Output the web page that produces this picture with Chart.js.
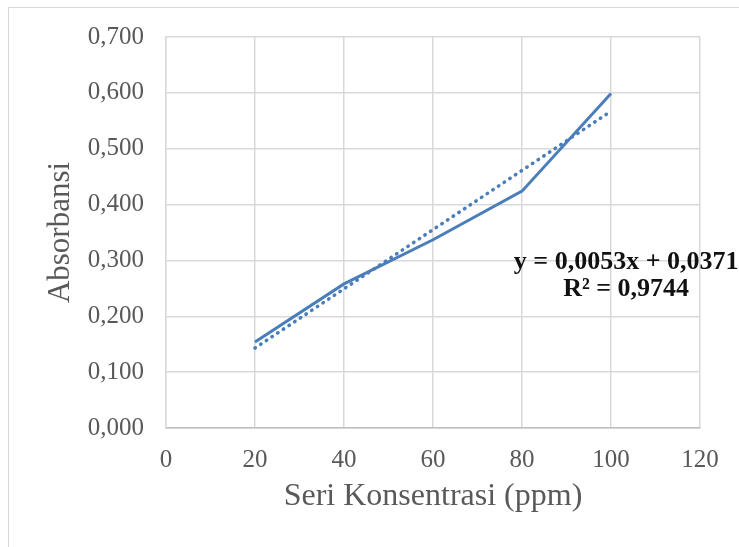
<!DOCTYPE html>
<html>
<head>
<meta charset="utf-8">
<script src="https://cdn.jsdelivr.net/npm/chart.js@4"></script>
<style>
    body { margin: 0; background: #fff; }
    #box { position: relative; width: 739px; height: 547px; overflow: hidden; }
    #frame { position: absolute; left: 8px; top: 7px; width: 800px; height: 600px; border: 1px solid #d9d9d9; pointer-events: none; }
    canvas { position: absolute; left: 0; top: 0; }
</style>
</head>
<body>
<div id="box">
    <canvas id="absChart" width="739" height="547"></canvas>
    <div id="frame"></div>
</div>
<script>
// concentration series (ppm) and measured absorbance
const konsentrasi = [20, 40, 60, 80, 100];
const absorbansi = [0.154, 0.258, 0.337, 0.424, 0.599];

// linear trendline as reported on the chart
const slope = 0.0053;
const intercept = 0.0371;
const rSquared = 0.9744;

const xTicks = [0, 20, 40, 60, 80, 100, 120];
const yTicks = [0, 0.1, 0.2, 0.3, 0.4, 0.5, 0.6, 0.7];

const blue = '#4a7ebb';
const grey = '#595959';

const fmt = (v, d) => v.toFixed(d).replace('.', ',');

const trendX = [konsentrasi[0], konsentrasi[konsentrasi.length - 1]];

// equation label anchor (data units)
const eqAt = { x: 103.4, y: 0.296 };

const equationLabel = {
    id: 'equationLabel',
    afterDatasetsDraw(chart) {
        const { ctx, scales: { x, y } } = chart;
        const px = x.getPixelForValue(eqAt.x);
        const py = y.getPixelForValue(eqAt.y);
        ctx.save();
        ctx.fillStyle = '#111';
        ctx.font = 'bold 26px "Liberation Serif"';
        ctx.textAlign = 'center';
        ctx.textBaseline = 'middle';
        ctx.fillText('y = ' + fmt(slope, 4) + 'x + ' + fmt(intercept, 4), px, py);
        ctx.fillText('R² = ' + fmt(rSquared, 4), px, py + 27);
        ctx.restore();
    }
};

new Chart(document.getElementById('absChart').getContext('2d'), {
    type: 'line',
    data: {
        datasets: [
            {
                label: 'Absorbansi',
                data: konsentrasi.map((k, i) => ({ x: k, y: absorbansi[i] })),
                borderColor: blue,
                borderWidth: 3,
                pointRadius: 0,
                tension: 0,
                order: 1
            },
            {
                label: 'Linear',
                data: trendX.map(k => ({ x: k, y: slope * k + intercept })),
                borderColor: blue,
                borderWidth: 3.5,
                borderDash: [0.5, 6.3],
                borderCapStyle: 'round',
                pointRadius: 0,
                order: 0
            }
        ]
    },
    options: {
        responsive: false,
        animation: false,
        layout: { padding: { left: 0, right: 39, top: 35, bottom: 0 } },
        plugins: {
            legend: { display: false },
            tooltip: { enabled: false }
        },
        scales: {
            x: {
                type: 'linear',
                min: xTicks[0],
                max: xTicks[xTicks.length - 1],
                afterBuildTicks: s => { s.ticks = xTicks.map(v => ({ value: v })); },
                afterFit: s => { s.height = 119; },
                grid: { color: '#d9d9d9', lineWidth: 1.5, drawTicks: false },
                border: { color: '#bfbfbf', width: 1.5 },
                ticks: {
                    padding: 17,
                    color: grey,
                    font: { family: 'Liberation Serif', size: 25 },
                    callback: v => String(v)
                },
                title: {
                    display: true,
                    text: 'Seri Konsentrasi (ppm)',
                    color: grey,
                    font: { family: 'Liberation Serif', size: 32 },
                    padding: { top: 0, bottom: 31 }
                }
            },
            y: {
                type: 'linear',
                min: yTicks[0],
                max: yTicks[yTicks.length - 1],
                afterBuildTicks: s => { s.ticks = yTicks.map(v => ({ value: v })); },
                afterFit: s => { s.width = 166; },
                grid: { color: '#d9d9d9', lineWidth: 1.5, drawTicks: false },
                border: { color: '#d9d9d9', width: 1.5 },
                ticks: {
                    padding: 22,
                    color: grey,
                    font: { family: 'Liberation Serif', size: 25 },
                    callback: v => fmt(v, 3)
                },
                title: {
                    display: true,
                    text: 'Absorbansi',
                    color: grey,
                    font: { family: 'Liberation Serif', size: 31 },
                    padding: { top: 42, bottom: 0 }
                }
            }
        }
    },
    plugins: [equationLabel]
});
</script>
</body>
</html>
